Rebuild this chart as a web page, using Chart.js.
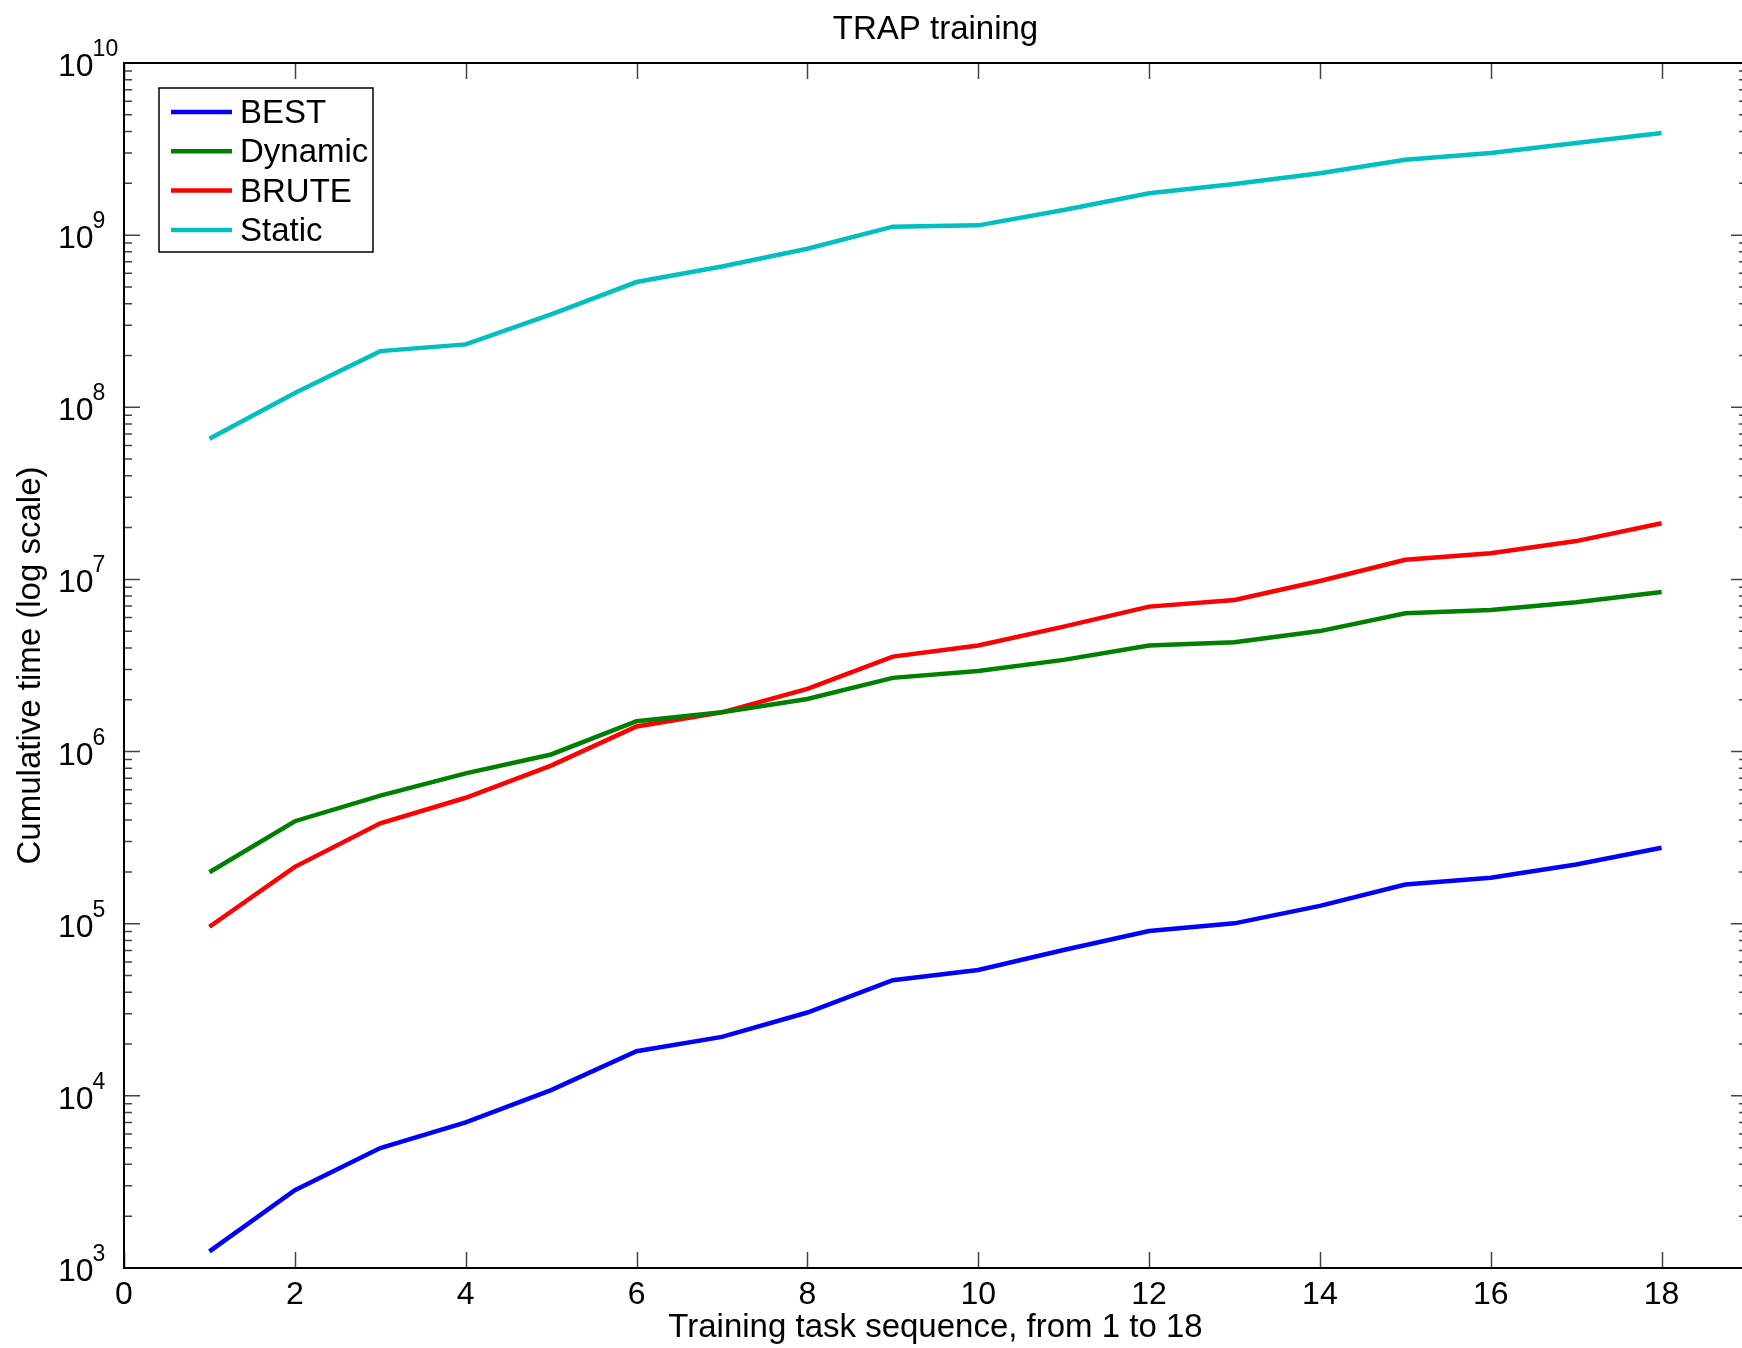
<!DOCTYPE html>
<html>
<head>
<meta charset="utf-8">
<script src="https://cdn.jsdelivr.net/npm/chart.js@4.4.0/dist/chart.umd.min.js"></script>
<style>
    html, body { margin: 0; padding: 0; background: #fff; overflow: hidden; }
    #wrap { width: 1742px; height: 1348px; overflow: hidden; }
    canvas { display: block; }
</style>
</head>
<body>
<div id="wrap"><canvas id="trap-chart" width="1760" height="1348"></canvas></div>
<script>
// task index on the x axis
const tasks = [1, 2, 3, 4, 5, 6, 7, 8, 9, 10, 11, 12, 13, 14, 15, 16, 17, 18];

// cumulative times
const bestTimes = [1250, 2830, 4980, 7010, 10800, 18150, 22000, 30500, 47000, 53800,
    70300, 90600, 100500, 127000, 169000, 185000, 221000, 276000];
const dynamicTimes = [199000, 394000, 555000, 747000, 962000, 1.50e6, 1.69e6, 2.02e6, 2.68e6, 2.94e6,
    3.41e6, 4.13e6, 4.32e6, 5.01e6, 6.36e6, 6.65e6, 7.38e6, 8.44e6];
const bruteTimes = [96000, 214000, 383000, 539000, 829000, 1.40e6, 1.69e6, 2.31e6, 3.56e6, 4.13e6,
    5.32e6, 6.95e6, 7.60e6, 9.79e6, 1.30e7, 1.42e7, 1.67e7, 2.12e7];
const staticTimes = [6.56e7, 1.21e8, 2.12e8, 2.32e8, 3.47e8, 5.34e8, 6.58e8, 8.34e8, 1.12e9, 1.14e9,
    1.40e9, 1.75e9, 1.98e9, 2.29e9, 2.74e9, 3.00e9, 3.43e9, 3.92e9];

const xTicks = [0, 2, 4, 6, 8, 10, 12, 14, 16, 18];
const yDecades = [3, 4, 5, 6, 7, 8, 9, 10];

const FONT = "'Liberation Sans', Arial, Helvetica, sans-serif";

function toPoints(values) {
    return values.map((v, i) => ({ x: tasks[i], y: v }));
}

// MATLAB-like box, inward ticks, superscript y labels and legend
const matlabAxes = {
    id: "matlabAxes",
    afterDraw(chart) {
        const { ctx, chartArea: area } = chart;
        const xs = chart.scales.x;
        const ys = chart.scales.y;
        ctx.save();

        // ticks
        ctx.strokeStyle = "#444";
        ctx.lineWidth = 1.5;
        ctx.beginPath();
        xTicks.forEach((t) => {
            const px = Math.round(xs.getPixelForValue(t)) + 0.5;
            ctx.moveTo(px, area.bottom); ctx.lineTo(px, area.bottom - 16);
            ctx.moveTo(px, area.top); ctx.lineTo(px, area.top + 16);
        });
        yDecades.forEach((d, i) => {
            const py = ys.getPixelForValue(Math.pow(10, d));
            ctx.moveTo(area.left, py); ctx.lineTo(area.left + 16, py);
            ctx.moveTo(area.right, py); ctx.lineTo(area.right - 16, py);
            if (i < yDecades.length - 1) {
                for (let m = 2; m <= 9; m++) {
                    const my = ys.getPixelForValue(m * Math.pow(10, d));
                    ctx.moveTo(area.left, my); ctx.lineTo(area.left + 8, my);
                    ctx.moveTo(area.right, my); ctx.lineTo(area.right - 8, my);
                }
            }
        });
        ctx.stroke();

        // box
        ctx.strokeStyle = "#000";
        ctx.lineWidth = 2;
        ctx.strokeRect(area.left, area.top, area.right - area.left, area.bottom - area.top);

        // y tick labels 10^n
        ctx.fillStyle = "#000";
        ctx.textAlign = "left";
        ctx.textBaseline = "alphabetic";
        yDecades.forEach((d) => {
            const py = ys.getPixelForValue(Math.pow(10, d));
            ctx.font = "32px " + FONT;
            ctx.fillText("10", 58, py + 13);
            const w = ctx.measureText("10").width;
            ctx.font = "23px " + FONT;
            ctx.fillText(String(d), 58 + w - 1, py - 7);
        });

        // legend
        const lx = 159, ly = 88, lw = 214, lh = 164;
        ctx.fillStyle = "#fff";
        ctx.fillRect(lx, ly, lw, lh);
        ctx.strokeStyle = "#000";
        ctx.lineWidth = 1.5;
        ctx.strokeRect(lx, ly, lw, lh);
        ctx.font = "33px " + FONT;
        ctx.textBaseline = "middle";
        chart.data.datasets.forEach((ds, i) => {
            const cy = 112 + i * 39.3;
            ctx.strokeStyle = ds.borderColor;
            ctx.lineWidth = 4.5;
            ctx.beginPath();
            ctx.moveTo(171, cy); ctx.lineTo(232, cy);
            ctx.stroke();
            ctx.fillStyle = "#000";
            ctx.fillText(ds.label, 240, cy + 2);
        });
        ctx.restore();
    }
};

const lineStyle = { borderWidth: 4.5, pointRadius: 0, tension: 0, fill: false };

new Chart(document.getElementById("trap-chart"), {
    type: "line",
    data: {
        datasets: [
            { label: "BEST", data: toPoints(bestTimes), borderColor: "#0000ff", ...lineStyle },
            { label: "Dynamic", data: toPoints(dynamicTimes), borderColor: "#008000", ...lineStyle },
            { label: "BRUTE", data: toPoints(bruteTimes), borderColor: "#ff0000", ...lineStyle },
            { label: "Static", data: toPoints(staticTimes), borderColor: "#00bfbf", ...lineStyle }
        ]
    },
    options: {
        responsive: false,
        animation: false,
        layout: { padding: { top: 0, right: 13, bottom: 0, left: 0 } },
        plugins: {
            legend: { display: false },
            tooltip: { enabled: false },
            title: {
                display: true,
                text: "TRAP training",
                fullSize: false,
                color: "#000",
                font: { family: FONT, size: 33, weight: "normal", lineHeight: 1.2 },
                padding: { top: 10, bottom: 13.4 }
            }
        },
        scales: {
            x: {
                type: "linear",
                min: 0,
                max: 19,
                grid: { display: false, drawTicks: false },
                border: { display: false },
                afterBuildTicks: (scale) => { scale.ticks = xTicks.map((v) => ({ value: v })); },
                afterFit: (scale) => { scale.height = 80; },
                ticks: {
                    color: "#000",
                    padding: 8,
                    maxRotation: 0,
                    autoSkip: false,
                    font: { family: FONT, size: 32 }
                },
                title: {
                    display: true,
                    text: "Training task sequence, from 1 to 18",
                    color: "#000",
                    font: { family: FONT, size: 33, lineHeight: 1.2 },
                    padding: { top: 0, bottom: 0 }
                }
            },
            y: {
                type: "logarithmic",
                min: 1e3,
                max: 1e10,
                grid: { display: false, drawTicks: false },
                border: { display: false },
                ticks: { display: false },
                afterFit: (scale) => { scale.width = 124; },
                title: {
                    display: true,
                    text: "Cumulative time (log scale)",
                    color: "#000",
                    font: { family: FONT, size: 33, lineHeight: 1.2 },
                    padding: { top: 11, bottom: 0 }
                }
            }
        }
    },
    plugins: [matlabAxes]
});
</script>
</body>
</html>
